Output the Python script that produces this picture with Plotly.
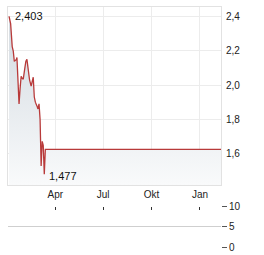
import plotly.graph_objects as go

dates = ["2024-01-04", "2024-01-07", "2024-01-10", "2024-01-12", "2024-01-14", "2024-01-16",
         "2024-01-18", "2024-01-19", "2024-01-21", "2024-01-23", "2024-01-25", "2024-01-27",
         "2024-01-29", "2024-01-31", "2024-02-03", "2024-02-05", "2024-02-07", "2024-02-09",
         "2024-02-12", "2024-02-15", "2024-02-17", "2024-02-19", "2024-02-21", "2024-02-23",
         "2024-02-26", "2024-02-28", "2024-03-01", "2024-03-03", "2024-03-05", "2024-03-07",
         "2024-03-09", "2024-03-11", "2024-03-13", "2025-02-10"]
prices = [2.403, 2.36, 2.226, 2.20, 2.139, 2.145, 2.151, 2.162, 2.00, 1.890, 1.98, 2.052,
          2.04, 2.035, 2.10, 2.14, 2.151, 2.10, 2.03, 1.994, 2.02, 2.046, 1.930, 1.90,
          1.878, 1.86, 1.890, 1.80, 1.525, 1.670, 1.646, 1.477, 1.623, 1.623]

hi_label, lo_label = "2,403", "1,477"
hi_date, lo_date = "2024-01-04", "2024-03-11"
vol_ticks = [0, 5, 10]

Y0, Y1 = 1.414, 2.458

fig = go.Figure()
fig.add_trace(go.Scatter(
    x=dates, y=prices, mode="lines",
    line=dict(color="#b83a3a", width=1.3),
    fill="tozeroy",
    fillgradient=dict(type="vertical", start=Y0, stop=Y1,
                      colorscale=[[0, "rgb(249,250,251)"], [1, "rgb(208,216,223)"]]),
    hoverinfo="skip", showlegend=False,
    xaxis="x", yaxis="y"))
fig.add_trace(go.Scatter(x=[dates[0], dates[-1]], y=[None, None], xaxis="x2", yaxis="y2",
                         showlegend=False, hoverinfo="skip"))

fig.add_annotation(x=hi_date, y=2.403, text=hi_label, xref="x", yref="y",
                   showarrow=False, xanchor="left", yanchor="middle", xshift=4,
                   font=dict(size=11, color="#111"))
fig.add_annotation(x=lo_date, y=1.477, text=lo_label, xref="x", yref="y",
                   showarrow=False, xanchor="left", yanchor="middle", xshift=3, yshift=-2,
                   font=dict(size=11, color="#111"))

xr = ["2024-01-02", "2025-02-10"]
tickvals = ["2024-04-01", "2024-07-01", "2024-10-01", "2025-01-01"]
ticktext = ["Apr", "Jul", "Okt", "Jan"]

fig.update_layout(
    width=264, height=255,
    margin=dict(l=8, r=43, t=7, b=8, autoexpand=False),
    paper_bgcolor="white", plot_bgcolor="white",
    separators=",.",
    font=dict(family="Liberation Sans, Arial, sans-serif", size=10, color="#222"),
    xaxis=dict(domain=[0, 1], range=xr, type="date", anchor="y", automargin=False,
               tickvals=tickvals, ticktext=ticktext,
               showgrid=True, gridcolor="#ececec", gridwidth=1,
               showline=True, linecolor="#e2e2e2", mirror=True,
               ticks="", zeroline=False),
    yaxis=dict(domain=[0.2583, 1], range=[Y0, Y1], side="right", anchor="x", automargin=False,
               tickvals=[1.6, 1.8, 2.0, 2.2, 2.4], tickformat=".1f", ticklabelstandoff=2,
               showgrid=True, gridcolor="#ececec", gridwidth=1,
               showline=True, linecolor="#e2e2e2", mirror=True,
               ticks="", zeroline=False),
    xaxis2=dict(domain=[0, 1], range=xr, type="date", anchor="y2", side="top", automargin=False,
                tickvals=tickvals, showticklabels=False, ticks="inside", ticklen=3,
                tickcolor="#333", showgrid=False, showline=False, zeroline=False),
    yaxis2=dict(domain=[0, 0.1667], range=[0, 10], side="right", anchor="x2", automargin=False,
                tickvals=vol_ticks, showgrid=True, gridcolor="#cfcfcf", gridwidth=1,
                ticks="outside", ticklen=5, tickcolor="#555", zeroline=False,
                showline=False),
)

fig.write_html("out.html")
